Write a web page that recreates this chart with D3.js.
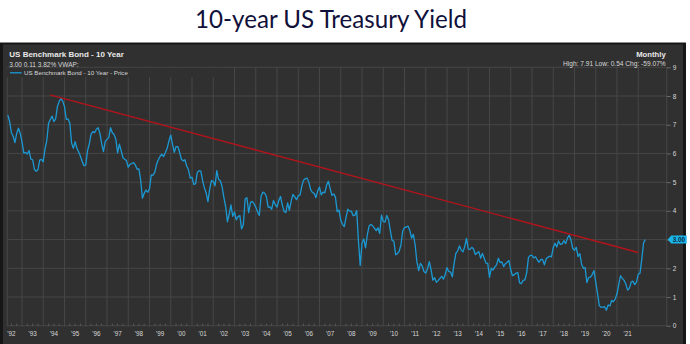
<!DOCTYPE html>
<html>
<head>
<meta charset="utf-8">
<script src="https://cdn.jsdelivr.net/npm/d3@7"></script>
<style>
  html, body { margin: 0; padding: 0; background: #ffffff; }
  svg { display: block; }
</style>
</head>
<body>
<svg id="chart" width="690" height="344"></svg>
<script>
// ---------------- DATA ----------------
const chartTitle = "10-year US Treasury Yield";
const seriesName = "US Benchmark Bond - 10 Year";
const quoteLine = "3.00 0.11 3.82%  VWAP:";
const legendLabel = "US Benchmark Bond - 10 Year - Price";
const periodLabel = "Monthly";
const statsLine = "High: 7.91 Low: 0.54 Chg: -59.07%";
const lastValueLabel = "3.00";

// monthly closes, May 1992 .. May 2022
const startYear = 1992;
const startMonth = 5;
const yields = [
  7.33, 7.12, 6.72, 6.60, 6.38, 6.70, 6.88, 6.70,                         // 1992 May-Dec
  6.40, 6.02, 6.03, 5.98, 6.10, 5.80, 5.78, 5.45, 5.38, 5.43, 5.77, 5.79, // 1993
  5.71, 6.15, 6.45, 7.05, 7.18, 7.30, 7.11, 7.20, 7.63, 7.81, 7.91, 7.82, // 1994
  7.63, 7.19, 7.20, 7.06, 6.36, 6.18, 6.41, 6.18, 6.05, 5.90, 5.72, 5.57, // 1995
  5.60, 6.10, 6.33, 6.67, 6.76, 6.72, 6.84, 6.90, 6.70, 6.34, 6.06, 6.42, // 1996
  6.49, 6.55, 6.90, 6.72, 6.66, 6.49, 6.02, 6.32, 6.10, 5.85, 5.80, 5.75, // 1997
  5.52, 5.62, 5.65, 5.68, 5.60, 5.45, 5.46, 5.08, 4.44, 4.61, 4.72, 4.65, // 1998
  4.77, 5.25, 5.24, 5.35, 5.62, 5.78, 5.90, 5.97, 5.89, 6.03, 6.19, 6.44, // 1999
  6.64, 6.32, 6.04, 6.24, 6.24, 6.04, 5.80, 5.74, 5.78, 5.56, 5.43, 5.14, // 2000
  5.17, 4.92, 4.94, 5.34, 5.40, 5.38, 5.05, 4.80, 4.62, 4.32, 4.76, 5.05, // 2001
  5.03, 4.87, 5.40, 5.10, 5.05, 4.84, 4.47, 4.15, 3.62, 3.89, 4.21, 3.81, // 2002
  3.96, 3.69, 3.80, 3.84, 3.37, 3.52, 4.41, 4.46, 3.94, 4.29, 4.33, 4.25, // 2003
  4.13, 3.97, 3.84, 4.51, 4.65, 4.62, 4.50, 4.13, 4.14, 4.05, 4.36, 4.22, // 2004
  4.13, 4.36, 4.50, 4.20, 3.98, 3.94, 4.28, 4.02, 4.34, 4.57, 4.49, 4.39, // 2005
  4.53, 4.55, 4.86, 5.07, 5.12, 5.14, 4.99, 4.74, 4.64, 4.61, 4.46, 4.70, // 2006
  4.83, 4.56, 4.65, 4.63, 4.89, 5.03, 4.78, 4.54, 4.59, 4.48, 3.97, 4.03, // 2007
  3.67, 3.53, 3.45, 3.77, 4.06, 3.99, 3.99, 3.83, 3.85, 4.01, 2.93, 2.10, // 2008
  2.87, 3.02, 2.71, 3.16, 3.47, 3.53, 3.48, 3.40, 3.31, 3.41, 3.21, 3.85, // 2009
  3.63, 3.61, 3.84, 3.69, 3.31, 2.97, 2.94, 2.47, 2.51, 2.60, 2.81, 3.30, // 2010
  3.42, 3.43, 3.47, 3.32, 3.05, 3.18, 2.82, 2.23, 1.92, 2.17, 2.08, 1.89, // 2011
  1.83, 1.98, 2.23, 1.95, 1.59, 1.67, 1.51, 1.57, 1.65, 1.72, 1.62, 1.78, // 2012
  2.02, 1.89, 1.87, 1.70, 2.16, 2.52, 2.60, 2.78, 2.64, 2.57, 2.75, 3.04, // 2013
  2.67, 2.66, 2.73, 2.67, 2.48, 2.53, 2.58, 2.35, 2.52, 2.35, 2.18, 2.17, // 2014
  1.68, 2.00, 1.94, 2.05, 2.12, 2.35, 2.20, 2.22, 2.06, 2.16, 2.21, 2.27, // 2015
  1.94, 1.74, 1.78, 1.83, 1.85, 1.49, 1.46, 1.58, 1.60, 1.84, 2.37, 2.45, // 2016
  2.45, 2.36, 2.40, 2.29, 2.21, 2.31, 2.30, 2.12, 2.33, 2.38, 2.42, 2.40, // 2017
  2.72, 2.87, 2.74, 2.95, 2.83, 2.85, 2.96, 2.86, 3.05, 3.15, 2.99, 2.69, // 2018
  2.63, 2.73, 2.41, 2.51, 2.14, 2.00, 2.02, 1.50, 1.68, 1.69, 1.78, 1.92, // 2019
  1.51, 1.13, 0.70, 0.64, 0.65, 0.66, 0.54, 0.72, 0.69, 0.88, 0.84, 0.93, // 2020
  1.11, 1.44, 1.74, 1.65, 1.58, 1.45, 1.24, 1.31, 1.52, 1.55, 1.43, 1.52, // 2021
  1.79, 1.83, 2.32, 2.89, 3.00                                            // 2022 Jan-May
];

// trend line (drawn over peaks)
const trendYears = [1994.32, 2022.0];
const trendValues = [8.04, 2.55];

// axes
const gridYears = d3.range(1993, 2023);            // 1993..2022 year boundaries
const labelYears = d3.range(1992, 2022);           // '92..'21
const yearLabels = labelYears.map(y => "'" + String(y).slice(2));
const yTicks = [0, 1, 2, 3, 4, 5, 6, 7, 8, 9];

// ---------------- DRAW ----------------
const svg = d3.select("#chart");
const bg = "#303030";
const gridColor = "#464646";
const textColor = "#d8d8d8";

// Title
const title = svg.append("text")
  .attr("x", 331).attr("y", 27.5)
  .attr("text-anchor", "middle")
  .attr("font-family", "Lato, 'Open Sans', sans-serif")
  .attr("font-size", 24)
  .attr("fill", "#10103a")
  .text(chartTitle);
const tw = title.node().getComputedTextLength();
title.attr("font-size", 24 * 272 / tw);

// Panel
svg.append("rect").attr("x", 0).attr("y", 42.5).attr("width", 686).attr("height", 302).attr("fill", "#161616");
svg.append("rect").attr("x", 3).attr("y", 44.5).attr("width", 680).attr("height", 300).attr("fill", bg);

const plotL = 7.3, plotR = 666.7, plotT = 67.3, plotB = 325.7;
const x = d3.scaleLinear().domain([1993, 2022]).range([22, 638.25]);
const y = d3.scaleLinear().domain([0, 9]).range([plotB, plotT]);

const g = svg.append("g");

// vertical grid
g.selectAll("line.vg").data(gridYears).enter().append("line")
  .attr("x1", d => x(d)).attr("x2", d => x(d))
  .attr("y1", plotT).attr("y2", plotB + 1)
  .attr("stroke", gridColor).attr("stroke-width", 1);
[plotL, plotR].forEach(px => {
  g.append("line").attr("x1", px).attr("x2", px).attr("y1", plotT).attr("y2", plotB + 1)
    .attr("stroke", gridColor).attr("stroke-width", 1);
});
// horizontal grid
g.selectAll("line.hg").data(yTicks).enter().append("line")
  .attr("x1", plotL).attr("x2", plotR)
  .attr("y1", d => y(d)).attr("y2", d => y(d))
  .attr("stroke", gridColor).attr("stroke-width", 1);

// last value (its marker hides the matching axis label)
const lastV = yields[yields.length - 1];

// right y axis ticks and labels
const yAxis = d3.axisRight(y).tickValues(yTicks).tickSize(4).tickPadding(2)
  .tickFormat(d => (Math.abs(d - lastV) < 0.5 ? "" : d3.format("d")(d)));
const ya = svg.append("g").attr("transform", `translate(${plotR},0)`).call(yAxis);
ya.select(".domain").remove();
ya.selectAll("line").attr("stroke", "#6a6a6a");
ya.selectAll("text").attr("fill", textColor).attr("font-size", 6.5)
  .attr("font-family", "'Liberation Sans', Arial, sans-serif");
ya.selectAll("text").filter(function () { return this.textContent === ""; }).remove();

// bottom minor ticks (quarters)
const quarterTicks = d3.range(1992.25, 2022.01, 0.25).filter(q => Math.abs(q - Math.round(q)) > 0.01 && x(q) > plotL);
g.selectAll("line.qt").data(quarterTicks).enter().append("line")
  .attr("x1", d => x(d)).attr("x2", d => x(d))
  .attr("y1", plotB - 2).attr("y2", plotB)
  .attr("stroke", "#5c5c5c").attr("stroke-width", 1);

// x labels (centered mid-year)
svg.selectAll("text.xl").data(labelYears).enter().append("text")
  .attr("x", (d) => x(d + 0.5))
  .attr("y", 336)
  .attr("text-anchor", "middle")
  .attr("fill", textColor)
  .attr("font-size", 6.3)
  .attr("font-family", "'Liberation Sans', Arial, sans-serif")
  .text((d, i) => yearLabels[i]);

// legend cover box over grid
svg.append("rect").attr("x", 4).attr("y", 67.9).attr("width", 221).attr("height", 9.2).attr("fill", bg);

// series line
const pts = yields.map((v, i) => ({ t: startYear + (startMonth - 1 + i) / 12, v }));
const line = d3.line().x(d => x(d.t)).y(d => y(d.v));
svg.append("path").datum(pts)
  .attr("d", line)
  .attr("fill", "none")
  .attr("stroke", "#1b99d4")
  .attr("stroke-width", 1.3)
  .attr("stroke-linejoin", "round");

// trend line
const trend = trendYears.map((t, i) => ({ t, v: trendValues[i] }));
svg.append("path").datum(trend)
  .attr("d", line)
  .attr("fill", "none")
  .attr("stroke", "#b3141c")
  .attr("stroke-width", 1.4);

// last value marker
const ly = y(lastV);
svg.append("path")
  .attr("d", `M${plotR + 1},${ly} L${plotR + 4.5},${ly - 4} L${plotR + 20},${ly - 4} L${plotR + 20},${ly + 4} L${plotR + 4.5},${ly + 4} Z`)
  .attr("fill", "#19b4ea");
svg.append("text")
  .attr("x", plotR + 12.3).attr("y", ly + 2.3)
  .attr("text-anchor", "middle")
  .attr("fill", "#0a2a3a")
  .attr("font-size", 6.3)
  .attr("font-weight", "bold")
  .attr("font-family", "'Liberation Sans', Arial, sans-serif")
  .text(lastValueLabel);

// header texts
const ff = "'Liberation Sans', Arial, sans-serif";
svg.append("text").attr("x", 9.3).attr("y", 57.4).attr("font-family", ff)
  .attr("font-size", 8).attr("font-weight", "bold").attr("fill", "#e8e8e8").text(seriesName);
svg.append("text").attr("x", 9.3).attr("y", 66.6).attr("font-family", ff)
  .attr("font-size", 6.5).attr("fill", textColor).text(quoteLine);
svg.append("line").attr("x1", 10).attr("x2", 21.7).attr("y1", 72.8).attr("y2", 72.8)
  .attr("stroke", "#1b99d4").attr("stroke-width", 1.3);
svg.append("text").attr("x", 24).attr("y", 75.2).attr("font-family", ff)
  .attr("font-size", 6.2).attr("fill", textColor).text(legendLabel);
svg.append("text").attr("x", 665.7).attr("y", 57.4).attr("text-anchor", "end").attr("font-family", ff)
  .attr("font-size", 7.7).attr("font-weight", "bold").attr("fill", "#e8e8e8").text(periodLabel);
svg.append("text").attr("x", 665.7).attr("y", 66.2).attr("text-anchor", "end").attr("font-family", ff)
  .attr("font-size", 6.6).attr("fill", textColor).text(statsLine);
</script>
</body>
</html>
